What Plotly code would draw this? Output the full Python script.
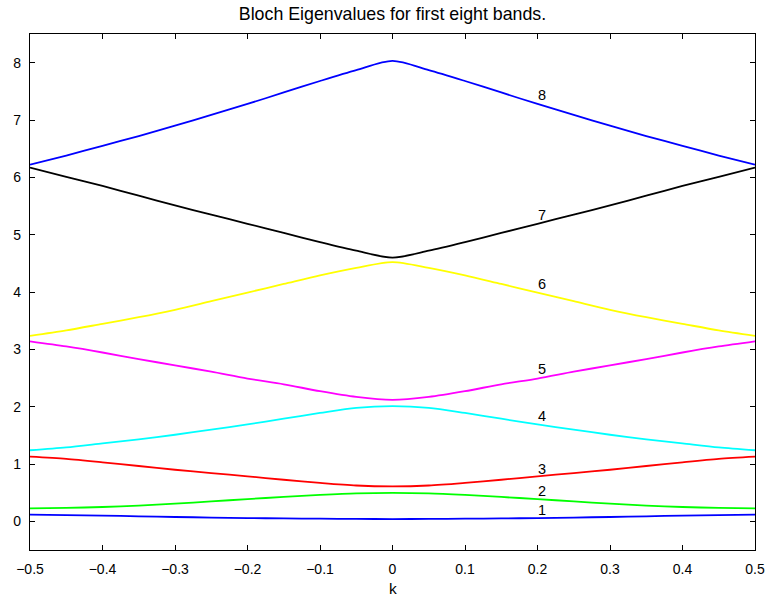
import plotly.graph_objects as go

k = [-0.5, -0.45, -0.4, -0.35, -0.3, -0.25, -0.2, -0.15, -0.1, -0.05, 0.0,
     0.05, 0.1, 0.15, 0.2, 0.25, 0.3, 0.35, 0.4, 0.45, 0.5]

band1 = [0.117, 0.110, 0.100, 0.088, 0.076, 0.066, 0.057, 0.051, 0.046, 0.042, 0.040,
         0.042, 0.046, 0.051, 0.057, 0.066, 0.076, 0.088, 0.100, 0.110, 0.117]
band2 = [0.227, 0.234, 0.250, 0.275, 0.308, 0.348, 0.388, 0.425, 0.460, 0.487, 0.495,
         0.487, 0.460, 0.425, 0.388, 0.348, 0.308, 0.275, 0.250, 0.234, 0.227]
band3 = [1.130, 1.090, 1.030, 0.965, 0.900, 0.842, 0.785, 0.725, 0.670, 0.625, 0.610,
         0.625, 0.670, 0.725, 0.785, 0.842, 0.900, 0.965, 1.030, 1.090, 1.130]
band4 = [1.240, 1.290, 1.360, 1.430, 1.510, 1.600, 1.690, 1.790, 1.890, 1.980, 2.010,
         1.980, 1.890, 1.790, 1.690, 1.600, 1.510, 1.430, 1.360, 1.290, 1.240]
band5 = [3.140, 3.050, 2.945, 2.830, 2.720, 2.610, 2.490, 2.390, 2.270, 2.170, 2.120,
         2.170, 2.270, 2.390, 2.490, 2.610, 2.720, 2.830, 2.945, 3.050, 3.140]
band6 = [3.235, 3.330, 3.445, 3.560, 3.690, 3.840, 3.990, 4.140, 4.290, 4.420, 4.520,
         4.420, 4.290, 4.140, 3.990, 3.840, 3.690, 3.560, 3.445, 3.330, 3.235]
band7 = [6.170, 6.010, 5.850, 5.680, 5.510, 5.350, 5.190, 5.030, 4.870, 4.720, 4.600,
         4.720, 4.870, 5.030, 5.190, 5.350, 5.510, 5.680, 5.850, 6.010, 6.170]
band8 = [6.220, 6.380, 6.550, 6.720, 6.900, 7.090, 7.280, 7.480, 7.680, 7.870, 8.030,
         7.870, 7.680, 7.480, 7.280, 7.090, 6.900, 6.720, 6.550, 6.380, 6.220]

bands = [band1, band2, band3, band4, band5, band6, band7, band8]
colors = ["#0000ff", "#00ff00", "#ff0000", "#00ffff",
          "#ff00ff", "#ffff00", "#000000", "#0000ff"]

label_text = ["1", "2", "3", "4", "5", "6", "7", "8"]
label_x = 0.2
label_y = [0.204, 0.536, 0.92, 1.845, 2.65, 4.145, 5.35, 7.43]

x_ticks = [-0.5, -0.4, -0.3, -0.2, -0.1, 0, 0.1, 0.2, 0.3, 0.4, 0.5]
x_tick_text = ["\u22120.5", "\u22120.4", "\u22120.3", "\u22120.2", "\u22120.1",
               "0", "0.1", "0.2", "0.3", "0.4", "0.5"]
y_ticks = [0, 1, 2, 3, 4, 5, 6, 7, 8]

FONT = "Liberation Sans, Arial, Helvetica, sans-serif"

fig = go.Figure()
for b, c in zip(bands, colors):
    fig.add_trace(go.Scatter(x=k, y=b, mode="lines",
                             line=dict(color=c, width=1.8, shape="spline", smoothing=0.8),
                             showlegend=False, hoverinfo="skip"))

for t, yv in zip(label_text, label_y):
    fig.add_annotation(x=label_x, y=yv, text=t, showarrow=False,
                       xanchor="left", yanchor="middle", xshift=-2,
                       font=dict(size=14.5, color="black", family=FONT))

fig.add_annotation(xref="paper", yref="paper", x=0.5, y=-0.074, text="k",
                   showarrow=False, xanchor="center", yanchor="middle",
                   font=dict(size=15.5, color="black", family=FONT))

axis_common = dict(showline=True, linecolor="black", linewidth=1.4, mirror="ticks",
                   ticks="inside", ticklen=5, tickwidth=1, tickcolor="black",
                   showgrid=False, zeroline=False, automargin=False,
                   tickfont=dict(size=14, color="black", family=FONT))

fig.update_xaxes(range=[-0.5, 0.5], tickvals=x_ticks, ticktext=x_tick_text,
                 ticklabelstandoff=6, **axis_common)
fig.update_yaxes(range=[-0.5, 8.5], tickvals=y_ticks,
                 ticklabelstandoff=5, **axis_common)

fig.update_layout(
    width=765, height=601,
    margin=dict(l=30, r=10, t=34, b=51),
    paper_bgcolor="white", plot_bgcolor="white",
    title=dict(text="Bloch Eigenvalues for first eight bands.",
               x=0.5, xref="paper", xanchor="center",
               y=1 - 14 / 601, yref="container", yanchor="middle",
               font=dict(size=17.8, color="black", family=FONT)),
    font=dict(family=FONT, color="black"),
)

fig.write_html("out.html")
